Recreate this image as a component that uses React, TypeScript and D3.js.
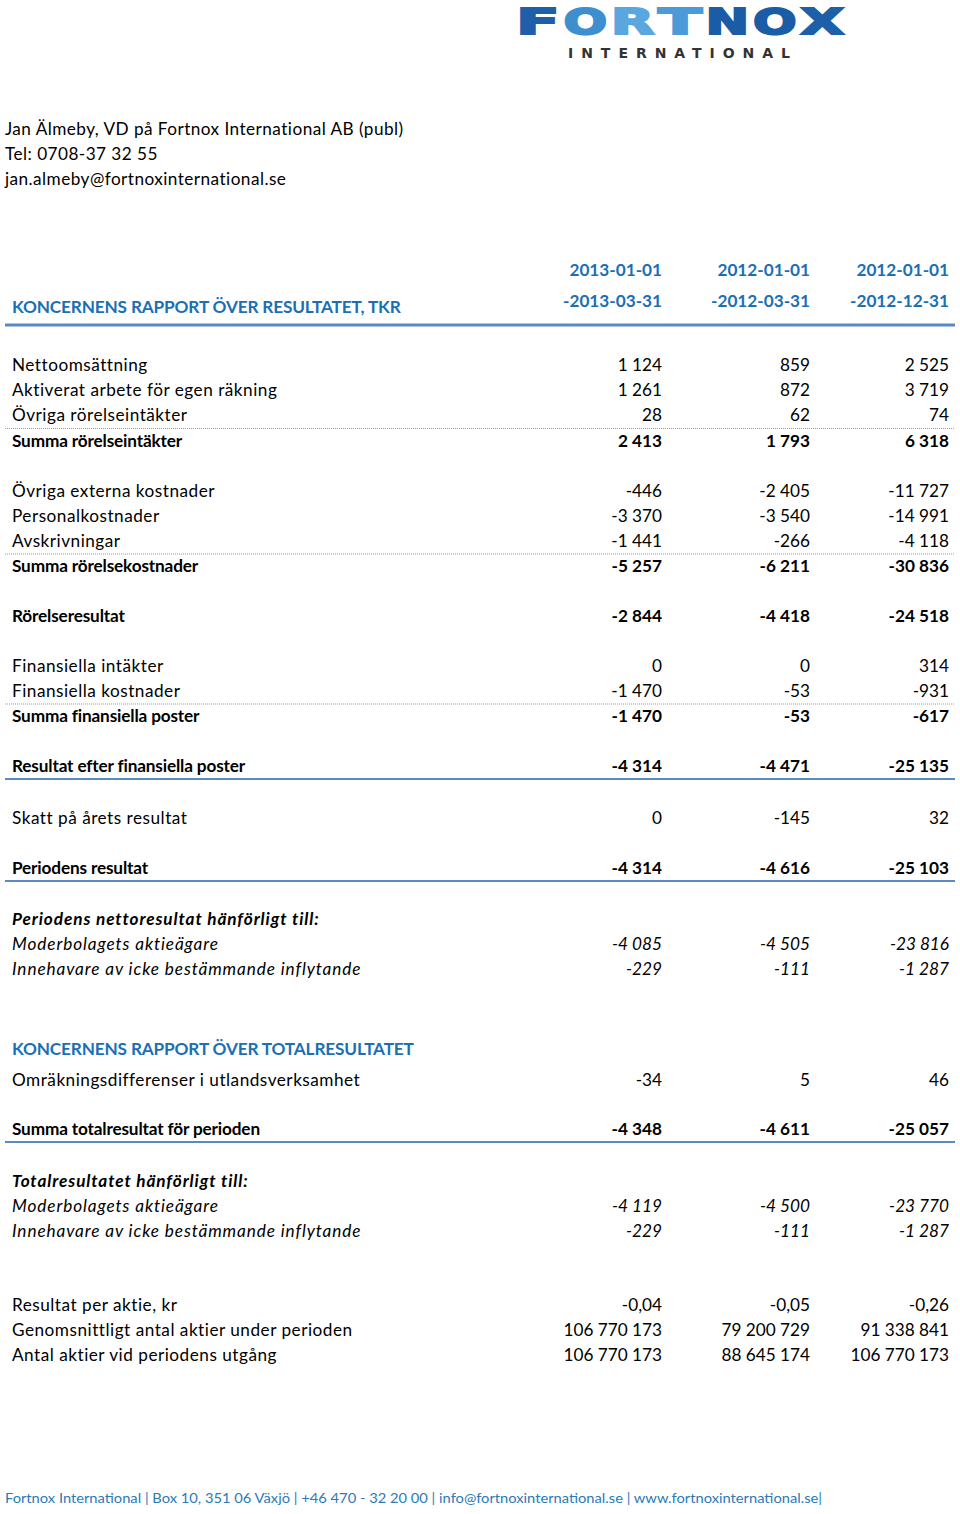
import React from "react";
import * as d3 from "d3";

const contactLines = [
  "Jan Älmeby, VD på Fortnox International AB (publ)",
  "Tel: 0708-37 32 55",
  "jan.almeby@fortnoxinternational.se",
];

const periodStart = ["2013-01-01", "2012-01-01", "2012-01-01"];
const periodEnd = ["-2013-03-31", "-2012-03-31", "-2012-12-31"];

const title1 = "KONCERNENS RAPPORT ÖVER RESULTATET, TKR";

// kind: n normal, b bold, i italic, bi bold italic, h heading
const rowLabels = [
  "Nettoomsättning",
  "Aktiverat arbete för egen räkning",
  "Övriga rörelseintäkter",
  "Summa rörelseintäkter",
  "Övriga externa kostnader",
  "Personalkostnader",
  "Avskrivningar",
  "Summa rörelsekostnader",
  "Rörelseresultat",
  "Finansiella intäkter",
  "Finansiella kostnader",
  "Summa finansiella poster",
  "Resultat efter finansiella poster",
  "Skatt på årets resultat",
  "Periodens resultat",
  "Periodens nettoresultat hänförligt till:",
  "Moderbolagets aktieägare",
  "Innehavare av icke bestämmande inflytande",
  "KONCERNENS RAPPORT ÖVER TOTALRESULTATET",
  "Omräkningsdifferenser i utlandsverksamhet",
  "Summa totalresultat för perioden",
  "Totalresultatet hänförligt till:",
  "Moderbolagets aktieägare",
  "Innehavare av icke bestämmande inflytande",
  "Resultat per aktie, kr",
  "Genomsnittligt antal aktier under perioden",
  "Antal aktier vid periodens utgång",
];
const rowKinds = [
  "n", "n", "n", "b", "n", "n", "n", "b", "b", "n", "n", "b", "b", "n", "b",
  "bi", "i", "i", "h", "n", "b", "bi", "i", "i", "n", "n", "n",
];
const q1_2013: (number | null)[] = [
  1124, 1261, 28, 2413, -446, -3370, -1441, -5257, -2844, 0, -1470, -1470, -4314, 0, -4314,
  null, -4085, -229, null, -34, -4348, null, -4119, -229, -0.04, 106770173, 106770173,
];
const q1_2012: (number | null)[] = [
  859, 872, 62, 1793, -2405, -3540, -266, -6211, -4418, 0, -53, -53, -4471, -145, -4616,
  null, -4505, -111, null, 5, -4611, null, -4500, -111, -0.05, 79200729, 88645174,
];
const fy_2012: (number | null)[] = [
  2525, 3719, 74, 6318, -11727, -14991, -4118, -30836, -24518, 314, -931, -617, -25135, 32, -25103,
  null, -23816, -1287, null, 46, -25057, null, -23770, -1287, -0.26, 91338841, 106770173,
];

const footerText =
  "Fortnox International | Box 10, 351 06 Växjö | +46 470 - 32 20 00 | info@fortnoxinternational.se | www.fortnoxinternational.se|";

// layout (row centre positions)
const rowY = [
  365, 390, 415, 441, 491, 516, 541, 566, 616, 666, 691, 716, 766, 818, 868,
  919, 944, 969, 1049, 1080, 1129, 1181, 1206, 1231, 1305, 1330, 1355,
];
const dottedAfter = [2, 6, 10];
const blueAfter = [12, 14, 20];

const seLocale = d3.formatLocale({
  decimal: ",",
  thousands: "\u00a0",
  grouping: [3],
  currency: ["", " kr"],
  minus: "-",
});
const fmtInt = seLocale.format(",d");
const fmtDec = seLocale.format(",.2f");
const fmt = (v: number) => (Number.isInteger(v) ? fmtInt(v) : fmtDec(v));

const FONT = "Lato, 'Open Sans', sans-serif";
const BLUE = "#1a6fb5";
const LINEBLUE = "#5a8ac6";

const labelSpacing: Record<string, number> = { n: 0.5, b: -0.15, h: -0.15, i: 0.9, bi: 0.9 };

export default function App() {
  const W = 960;
  const H = 1514;
  const columns = [q1_2013, q1_2012, fy_2012];
  const colX = d3.scaleOrdinal<number, number>().domain([0, 1, 2]).range([662, 810, 949]);
  const fs = 17.2;
  const base = (y: number) => y + 6;

  const logoLetters = ["F", "O", "R", "T", "N", "O", "X"];
  const logoColors = ["#1f5ea8", "#3d8fd0", "#5aa6df", "#4a9bd8", "#1a5ca6", "#1a5ca6", "#1d5fa8"];
  const logoX = d3.scaleBand<number>().domain(d3.range(7)).range([516, 844]).paddingInner(0.08);

  return (
    <svg
      width={W}
      height={H}
      viewBox={`0 0 ${W} ${H}`}
      style={{ position: "absolute", left: 0, top: 0, background: "#fff" }}
      fontFamily={FONT}
    >
      <rect width={W} height={H} fill="#fff" />
      {/* Logo */}
      <g>
        {logoLetters.map((l, i) => (
          <text
            key={i}
            x={logoX(i)!}
            y={34}
            fontFamily="'DejaVu Sans', sans-serif"
            fontWeight={900}
            fontSize={36}
            fill={logoColors[i]}
            stroke={logoColors[i]}
            strokeWidth={2}
            textLength={logoX.bandwidth()}
            lengthAdjust="spacingAndGlyphs"
          >
            {l}
          </text>
        ))}
        <text
          x={568}
          y={58}
          fontFamily="'DejaVu Sans', sans-serif"
          fontWeight="bold"
          fontSize={14}
          fill="#333"
          textLength={222}
          lengthAdjust="spacing"
        >
          INTERNATIONAL
        </text>
      </g>

      {/* Contact */}
      {contactLines.map((t, i) => (
        <text key={i} x={5} y={base(129 + i * 25)} fontSize={fs} fill="#000" letterSpacing={0.45}>
          {t}
        </text>
      ))}

      {/* Column headers */}
      {periodStart.map((t, i) => (
        <text key={"s" + i} x={colX(i)} y={base(270)} fontSize={fs} fontWeight="bold" fill={BLUE} textAnchor="end">
          {t}
        </text>
      ))}
      {periodEnd.map((t, i) => (
        <text key={"e" + i} x={colX(i)} y={base(301)} fontSize={fs} fontWeight="bold" fill={BLUE} textAnchor="end">
          {t}
        </text>
      ))}
      <text x={12} y={base(307)} fontSize={fs} fontWeight="bold" fill={BLUE} letterSpacing={-0.15}>
        {title1}
      </text>
      <line x1={5} x2={955} y1={325} y2={325} stroke={LINEBLUE} strokeWidth={3} />

      {/* Rows */}
      {rowLabels.map((label, r) => {
        const k = rowKinds[r];
        const bold = k === "b" || k === "bi" || k === "h";
        const italic = k === "i" || k === "bi";
        const y = base(rowY[r]);
        return (
          <g key={r}>
            <text
              x={12}
              y={y}
              fontSize={fs}
              fontWeight={bold ? "bold" : "normal"}
              fontStyle={italic ? "italic" : "normal"}
              fill={k === "h" ? BLUE : "#000"}
              letterSpacing={labelSpacing[k]}
            >
              {label}
            </text>
            {columns.map((col, c) =>
              col[r] === null ? null : (
                <text
                  key={c}
                  x={colX(c)}
                  y={y}
                  fontSize={fs}
                  fontWeight={bold ? "bold" : "normal"}
                  fontStyle={italic ? "italic" : "normal"}
                  textAnchor="end"
                  fill="#000"
                >
                  {fmt(col[r] as number)}
                </text>
              )
            )}
          </g>
        );
      })}

      {/* Separators */}
      {dottedAfter.map((r) => {
        const y = (rowY[r] + rowY[r + 1]) / 2 + 0.5;
        return (
          <line key={"d" + r} x1={5} x2={955} y1={y} y2={y} stroke="#9a9aae" strokeWidth={1} strokeDasharray="1,1" />
        );
      })}
      {blueAfter.map((r) => {
        const y = rowY[r] + 13;
        return <line key={"b" + r} x1={5} x2={955} y1={y} y2={y} stroke={LINEBLUE} strokeWidth={2} />;
      })}

      {/* Footer */}
      <text x={5} y={1503} fontSize={14} fill="#2a7ab8" textLength={817} lengthAdjust="spacingAndGlyphs">
        {footerText}
      </text>
    </svg>
  );
}
